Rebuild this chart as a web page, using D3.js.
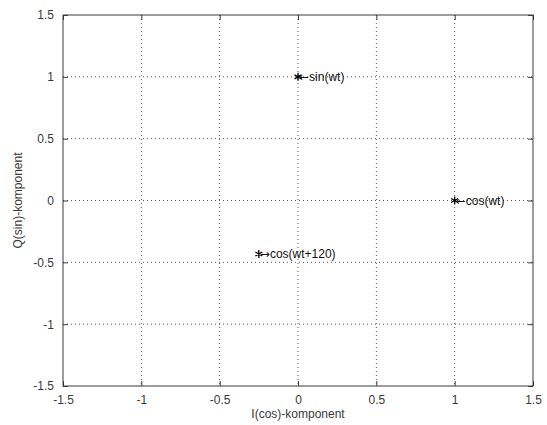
<!DOCTYPE html>
<html>
<head>
<meta charset="utf-8">
<script src="https://cdn.jsdelivr.net/npm/d3@7"></script>
<style>
  body { margin: 0; background: #fff; }
  svg text { font-family: "Liberation Sans", Arial, sans-serif; }
</style>
</head>
<body>
<div id="plot"></div>
<script>
"use strict";

// phasor points (I, Q)
const pointX = [0, 1, -0.25];
const pointY = [1, 0, -0.433];
const pointArrows = ["\u2190", "\u2190", "\u2192"];
const pointLabels = ["sin(wt)", "cos(wt)", "cos(wt+120)"];

const xTicks = [-1.5, -1, -0.5, 0, 0.5, 1, 1.5];
const yTicks = [-1.5, -1, -0.5, 0, 0.5, 1, 1.5];

const msm = {
    width: 547,
    height: 425,
    left: 63,
    right: 533,
    top: 15,
    bottom: 386
};
const axisColor = "#3a3a3a";

const svg = d3.select("#plot").append("svg")
    .attr("width", msm.width)
    .attr("height", msm.height);

const xScale = d3.scaleLinear().domain([-1.5, 1.5]).range([msm.left, msm.right]);
const yScale = d3.scaleLinear().domain([-1.5, 1.5]).range([msm.bottom, msm.top]);

// matlab style numbers with plain hyphen
const fmt = d => String(d);

// grid lines
const grid = svg.append("g");
grid.selectAll(".gx")
    .data(xTicks.slice(1, -1))
    .enter().append("line")
    .attr("x1", d => xScale(d)).attr("x2", d => xScale(d))
    .attr("y1", msm.top).attr("y2", msm.bottom)
    .attr("stroke", "#555").attr("stroke-width", 1)
    .attr("stroke-dasharray", "1,3");
grid.selectAll(".gy")
    .data(yTicks.slice(1, -1))
    .enter().append("line")
    .attr("y1", d => yScale(d)).attr("y2", d => yScale(d))
    .attr("x1", msm.left).attr("x2", msm.right)
    .attr("stroke", "#555").attr("stroke-width", 1)
    .attr("stroke-dasharray", "1,3");

// axes (ticks inside, like matlab)
function styleAxis(g) {
    g.select(".domain").remove();
    g.selectAll("line").attr("stroke", axisColor);
    g.selectAll("text").attr("fill", axisColor).style("font-size", "12px")
        .style("font-family", "Liberation Sans, Arial, sans-serif");
}
svg.append("g")
    .attr("transform", "translate(0," + msm.bottom + ")")
    .call(d3.axisBottom(xScale).tickValues(xTicks).tickFormat(fmt).tickSizeInner(-5).tickPadding(9))
    .call(styleAxis);
svg.append("g")
    .attr("transform", "translate(0," + msm.top + ")")
    .call(d3.axisTop(xScale).tickValues(xTicks).tickFormat("").tickSizeInner(-5))
    .call(styleAxis);
svg.append("g")
    .attr("transform", "translate(" + msm.left + ",0)")
    .call(d3.axisLeft(yScale).tickValues(yTicks).tickFormat(fmt).tickSizeInner(-5).tickPadding(9))
    .call(styleAxis);
svg.append("g")
    .attr("transform", "translate(" + msm.right + ",0)")
    .call(d3.axisRight(yScale).tickValues(yTicks).tickFormat("").tickSizeInner(-5))
    .call(styleAxis);

// box
svg.append("rect")
    .attr("x", msm.left).attr("y", msm.top)
    .attr("width", msm.right - msm.left).attr("height", msm.bottom - msm.top)
    .attr("fill", "none").attr("stroke", axisColor).attr("stroke-width", 1);

// markers
const star = d3.symbol().type(d3.symbolAsterisk).size(45);
svg.append("g").selectAll("path")
    .data(pointX)
    .enter().append("path")
    .attr("d", star)
    .attr("transform", (d, i) => "translate(" + xScale(d) + "," + yScale(pointY[i]) + ")")
    .attr("stroke", "#000").attr("stroke-width", 1.3).attr("fill", "none");

// labels
const labels = svg.append("g").selectAll("text")
    .data(pointLabels)
    .enter().append("text")
    .attr("x", (d, i) => xScale(pointX[i]) + 1)
    .attr("y", (d, i) => yScale(pointY[i]) + 4)
    .style("font-size", "12px")
    .attr("fill", "#111");
labels.append("tspan")
    .style("font-family", "DejaVu Sans")
    .style("font-size", "12px")
    .text((d, i) => pointArrows[i]);
labels.append("tspan")
    .text(d => d);

// axis labels
svg.append("text")
    .attr("x", (msm.left + msm.right) / 2)
    .attr("y", 418)
    .attr("text-anchor", "middle")
    .style("font-size", "12px")
    .attr("fill", axisColor)
    .text("I(cos)-komponent");

svg.append("text")
    .attr("transform", "translate(22," + (msm.top + msm.bottom) / 2 + ") rotate(-90)")
    .attr("text-anchor", "middle")
    .style("font-size", "12px")
    .attr("fill", axisColor)
    .text("Q(sin)-komponent");
</script>
</body>
</html>
